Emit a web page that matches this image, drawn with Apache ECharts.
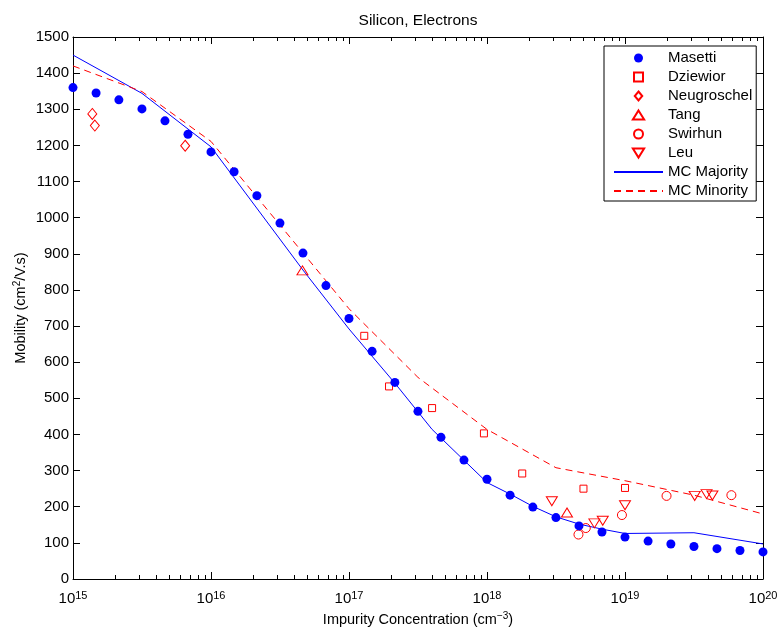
<!DOCTYPE html>
<html><head><meta charset="utf-8">
<script src="https://cdn.jsdelivr.net/npm/echarts@6/dist/echarts.min.js"></script>
<style>html,body{margin:0;padding:0;background:#fff}#c{width:777px;height:630px}</style>
</head><body><div id="c"></div>
<script>
// ---------- data ----------
const masettiX = [1e15,1.47e15,2.15e15,3.16e15,4.64e15,6.81e15,
  1e16,1.47e16,2.15e16,3.16e16,4.64e16,6.81e16,
  1e17,1.47e17,2.15e17,3.16e17,4.64e17,6.81e17,
  1e18,1.47e18,2.15e18,3.16e18,4.64e18,6.81e18,
  1e19,1.47e19,2.15e19,3.16e19,4.64e19,6.81e19,1e20];
const masettiY = [1360,1345,1326,1301,1268,1231,
  1182,1127,1061,985,902,812,
  721,630,544,464,392,329,
  276,232,199,170,147,130,
  116,105,97,90,84,79,75];
const dziewiorX = [1.29e17,1.95e17,4.0e17,9.5e17,1.8e18,5.0e18,1.0e19];
const dziewiorY = [673,533,473,403,292,250,252];
const neugroschelX = [1.38e15,1.44e15,6.5e15];
const neugroschelY = [1287,1255,1199];
const tangX = [4.6e16,3.8e18];
const tangY = [854,184];
const swirhunX = [4.6e18,5.2e18,9.5e18,2.0e19,5.9e19];
const swirhunY = [123,141,177,230,232];
const leuX = [2.95e18,6.0e18,6.9e18,1.0e19,3.2e19,3.9e19,4.3e19];
const leuY = [215,154,161,204,230,235,231];
const majorityX = [1e15,3.16e15,1e16,4.64e16,1e17,2.15e17,4e17,1e18,1.47e18,2.15e18,3.16e18,4.64e18,6.81e18,1e19,3.16e19,1e20];
const majorityY = [1450,1344,1196,855,692,542,414,267,235,201,172,152,138,126,128,97];
const minorityX = [1e15,3.16e15,1e16,1e17,3.16e17,1e18,3.16e18,1e19,3.16e19,1e20];
const minorityY = [1420,1349,1211,748,558,414,308,272,232,180];
const seriesNames = ['Masetti','Dziewior','Neugroschel','Tang','Swirhun','Leu','MC Majority','MC Minority'];
const yTicks = {min:0, max:1500, step:100};
const xRange = {min:1e15, max:1e20};
const minorMultipliers = [2,3,4,5,6,7,8,9];
const decadeStarts = [1e15,1e16,1e17,1e18,1e19];
// ---------------------------

const FONT = '"Liberation Sans", Arial, Helvetica, sans-serif';
const pairs = (xs, ys) => xs.map((x, i) => [x, ys[i]]);
const minorTickX = decadeStarts.flatMap(d => minorMultipliers.map(m => m * d));
const RED = '#ff0000', BLUE = '#0000ff';
const SYM = {
  square: 'path://M0,0 L10,0 L10,10 L0,10 Z',
  diamond: 'path://M5,0 L10,6 L5,12 L0,6 Z',
  up: 'path://M5,0 L10,8 L0,8 Z',
  down: 'path://M0,0 L10,0 L5,8 Z'
};

function hollow(name, xs, ys, symbol, size) {
  return {
    type: 'scatter', name, data: pairs(xs, ys), symbol, symbolSize: size, z: 5,
    itemStyle: {color: 'rgba(255,255,255,0)', borderColor: RED, borderWidth: 1, opacity: 1},
    emphasis: {disabled: true}
  };
}

const xLabel = {
  fontFamily: FONT, color: '#000', margin: 11,
  formatter: v => '{b|10}{s|' + Math.round(Math.log10(v)) + '}',
  rich: {
    b: {fontSize: 15, lineHeight: 18, fontFamily: FONT, color: '#000'},
    s: {fontSize: 11, lineHeight: 8, verticalAlign: 'top', fontFamily: FONT, color: '#000'}
  }
};
const axisLineStyle = {color: '#000', width: 1};
const supRich = {s: {fontSize: 10, lineHeight: 8, verticalAlign: 'top', fontFamily: FONT, color: '#000'}};

const chart = echarts.init(document.getElementById('c'), null, {renderer: 'canvas'});
chart.setOption({
  animation: false,
  backgroundColor: '#fff',
  grid: {left: 73, right: 14, top: 37, bottom: 51, containLabel: false, outerBoundsMode: 'none'},
  graphic: [{
    type: 'text', x: 418, y: 21, silent: true,
    style: {text: 'Silicon, Electrons', fontSize: 15.5, fontFamily: FONT, fill: '#000',
      align: 'center', verticalAlign: 'middle', textAlign: 'center', textVerticalAlign: 'middle'}
  }],
  legend: {
    orient: 'vertical', left: 604, top: 46, padding: [4, 4, 2, 9],
    itemWidth: 49, itemHeight: 9, itemGap: 3,
    backgroundColor: '#fff', borderColor: '#000', borderWidth: 1, borderRadius: 0,
    textStyle: {fontSize: 15, fontFamily: FONT, color: '#000', lineHeight: 16},
    data: seriesNames, selectedMode: false
  },
  xAxis: [{
    type: 'log', logBase: 10, min: xRange.min, max: xRange.max, position: 'bottom',
    axisLine: {onZero: false, lineStyle: axisLineStyle},
    axisTick: {inside: true, length: 7, lineStyle: {color: '#000'}},
    axisLabel: xLabel, splitLine: {show: false}, minorTick: {show: false},
    name: 'Impurity Concentration (cm{s|\u22123})', nameLocation: 'middle', nameGap: 32,
    nameTextStyle: {fontSize: 14.5, fontFamily: FONT, color: '#000', lineHeight: 18, rich: supRich}
  }, {
    type: 'log', logBase: 10, min: xRange.min, max: xRange.max, position: 'top',
    axisLine: {onZero: false, lineStyle: axisLineStyle},
    axisTick: {inside: true, length: 7, lineStyle: {color: '#000'}},
    axisLabel: {show: false}, splitLine: {show: false}
  }],
  yAxis: [{
    type: 'value', min: yTicks.min, max: yTicks.max, interval: yTicks.step, position: 'left',
    axisLine: {show: true, onZero: false, lineStyle: axisLineStyle},
    axisTick: {show: true, inside: true, length: 7, lineStyle: {color: '#000'}},
    axisLabel: {fontSize: 15, fontFamily: FONT, color: '#000', margin: 4, formatter: v => String(v)},
    splitLine: {show: false},
    name: 'Mobility (cm{s|2}/V.s)', nameLocation: 'middle', nameGap: 43, nameMoveOverlap: false,
    nameTextStyle: {fontSize: 14.5, fontFamily: FONT, color: '#000', lineHeight: 18, rich: supRich}
  }, {
    type: 'value', min: yTicks.min, max: yTicks.max, interval: yTicks.step, position: 'right',
    axisLine: {show: true, onZero: false, lineStyle: axisLineStyle},
    axisTick: {show: true, inside: true, length: 7, lineStyle: {color: '#000'}},
    axisLabel: {show: false}, splitLine: {show: false}
  }],
  series: [
    {type: 'scatter', name: 'Masetti', data: pairs(masettiX, masettiY), symbol: 'circle', symbolSize: 9,
      itemStyle: {color: BLUE, opacity: 1}, z: 6, emphasis: {disabled: true}},
    hollow('Dziewior', dziewiorX, dziewiorY, SYM.square, 7),
    hollow('Neugroschel', neugroschelX, neugroschelY, SYM.diamond, [9, 11]),
    hollow('Tang', tangX, tangY, SYM.up, [11, 9]),
    hollow('Swirhun', swirhunX, swirhunY, 'circle', 9),
    hollow('Leu', leuX, leuY, SYM.down, [11, 9]),
    {type: 'line', name: 'MC Majority', data: pairs(majorityX, majorityY), showSymbol: false, symbol: 'none',
      lineStyle: {color: BLUE, width: 1}, itemStyle: {color: 'rgba(0,0,0,0)', borderWidth: 0}, z: 3, emphasis: {disabled: true}},
    {type: 'line', name: 'MC Minority', data: pairs(minorityX, minorityY), showSymbol: false, symbol: 'none',
      lineStyle: {color: RED, width: 1, type: [7, 5]}, itemStyle: {color: 'rgba(0,0,0,0)', borderWidth: 0}, z: 3, emphasis: {disabled: true}},
    {
      type: 'custom', name: 'minorTicks', coordinateSystem: 'cartesian2d', silent: true, z: 2,
      data: minorTickX.map(v => [v, 0]),
      renderItem: function (params, api) {
        const x = Math.round(api.coord([api.value(0), 0])[0]) + 0.5;
        const cs = params.coordSys;
        return {type: 'group', children: [
          {type: 'line', shape: {x1: x, y1: cs.y + cs.height, x2: x, y2: cs.y + cs.height - 4},
            style: {stroke: '#000', lineWidth: 1}},
          {type: 'line', shape: {x1: x, y1: cs.y, x2: x, y2: cs.y + 4},
            style: {stroke: '#000', lineWidth: 1}}
        ]};
      }
    }
  ]
});
</script>
</body></html>
